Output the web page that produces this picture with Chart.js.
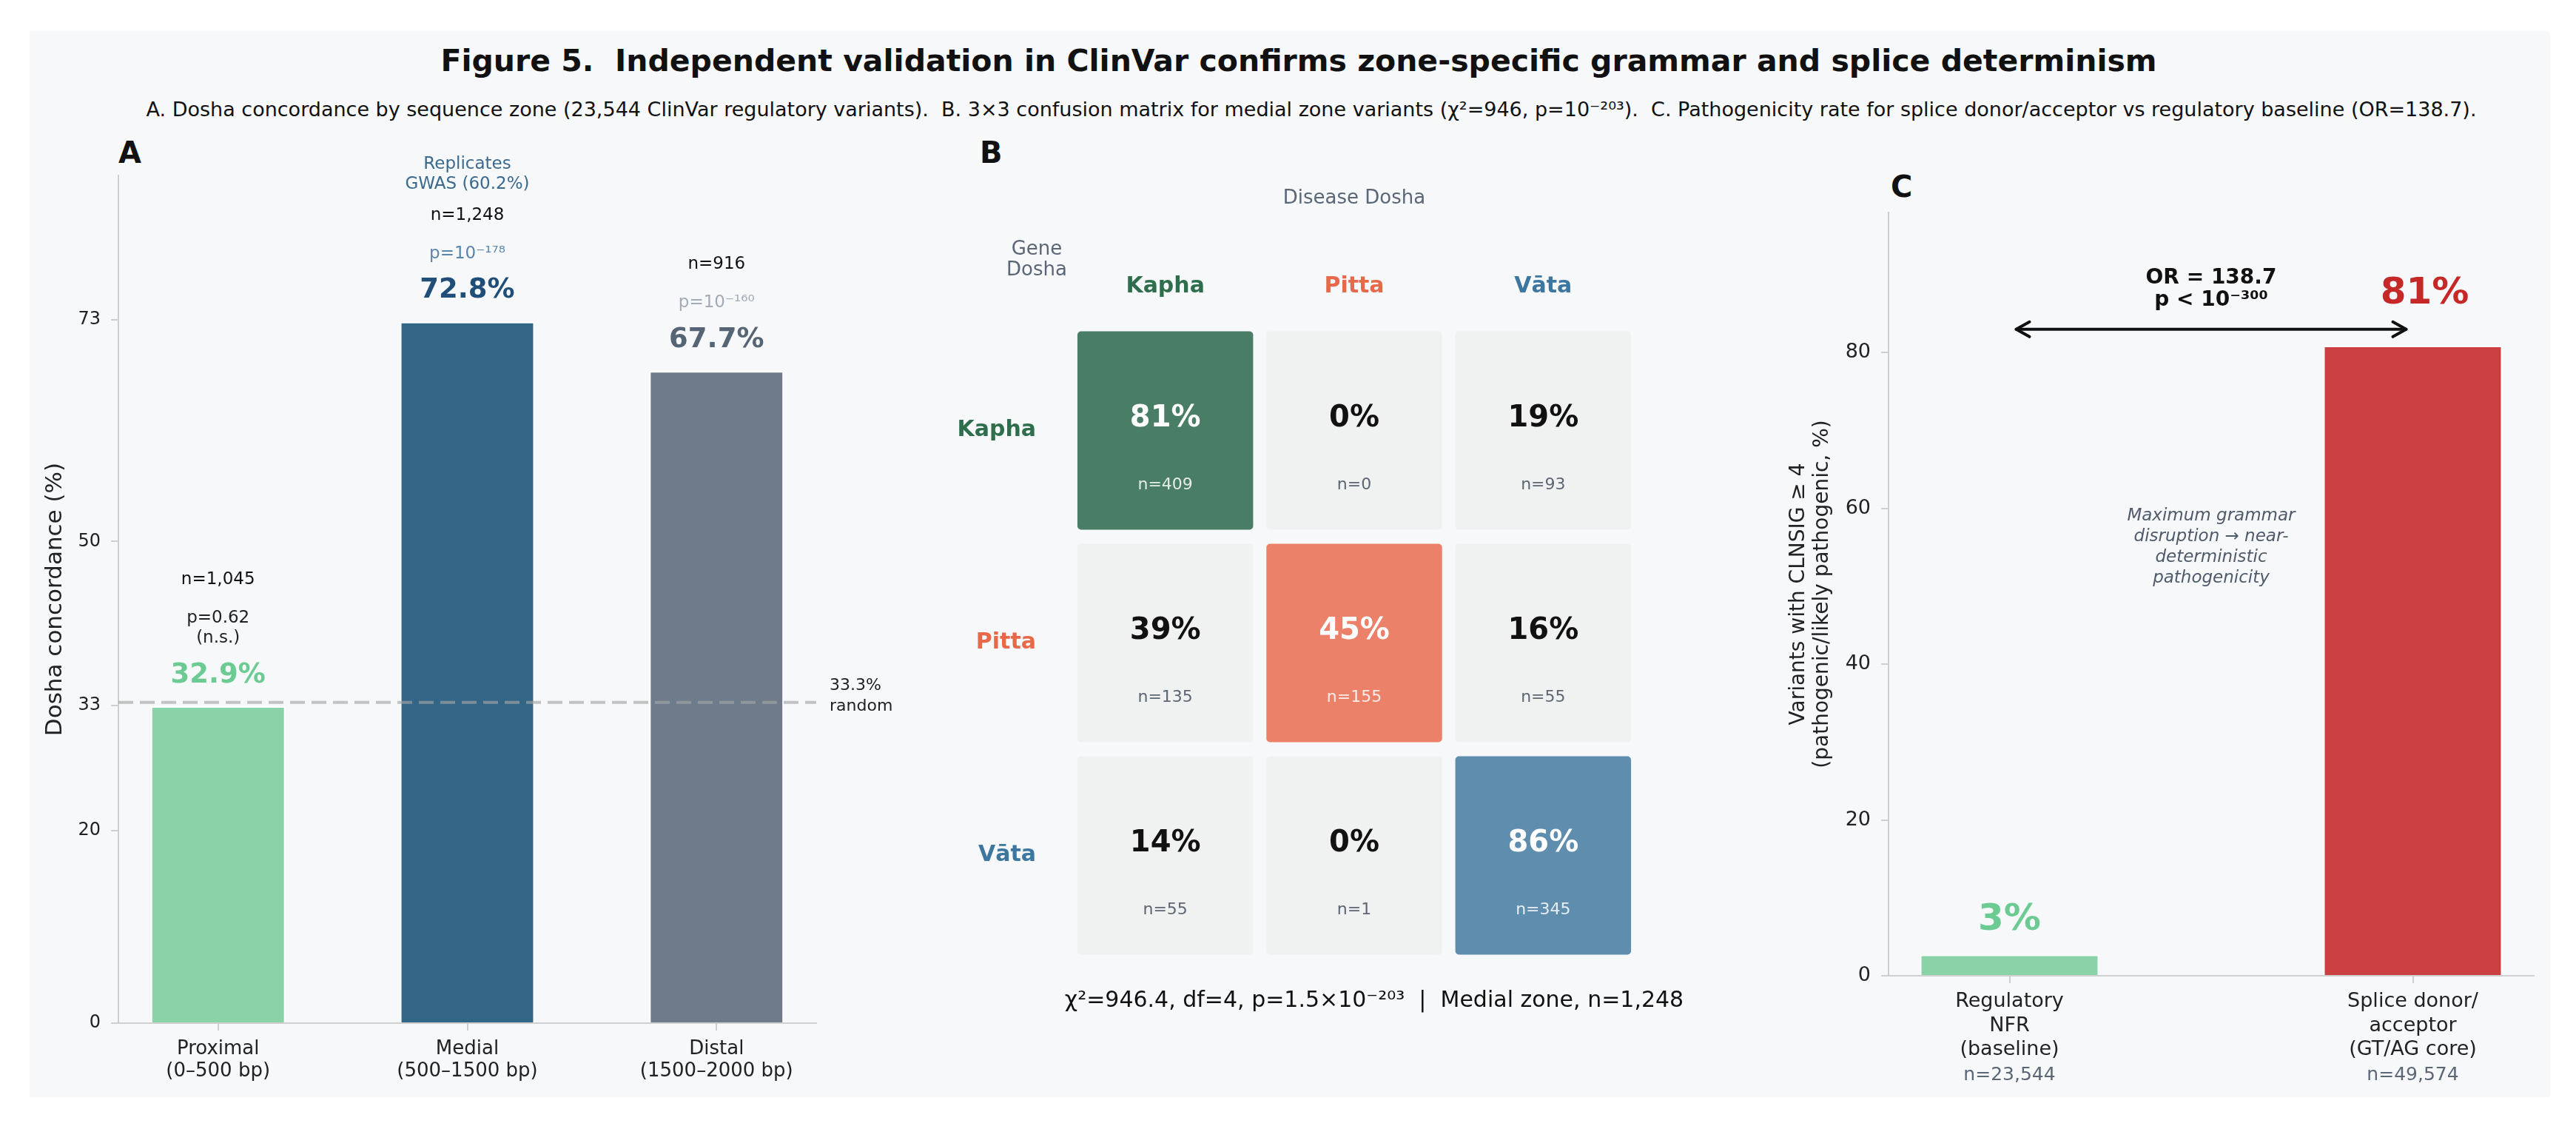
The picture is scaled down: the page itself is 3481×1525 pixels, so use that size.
<!DOCTYPE html>
<html><head><meta charset="utf-8">
<script src="https://cdn.jsdelivr.net/npm/chart.js@4.4.1/dist/chart.umd.min.js"></script>
<style>
html,body{margin:0;padding:0;background:#fff;width:3481px;height:1525px;overflow:hidden;font-family:"DejaVu Sans",sans-serif;}
#bg{position:absolute;left:40px;top:42px;width:3406px;height:1440px;background:#f7f8fa;}
.t{position:absolute;white-space:pre;color:#111;line-height:1;transform:translate(-50%,-50%);}
.l{position:absolute;white-space:pre;color:#111;line-height:1;font-weight:bold;font-size:40px;transform:translateY(-50%);}
canvas{position:absolute;}
</style></head><body>
<div id="bg"></div>
<div class="t" style="left:1755px;top:82px;font-size:41px;font-weight:bold;">Figure 5.  Independent validation in ClinVar confirms zone-specific grammar and splice determinism</div>
<div class="t" style="left:1772px;top:147px;font-size:27px;">A. Dosha concordance by sequence zone (23,544 ClinVar regulatory variants).  B. 3×3 confusion matrix for medial zone variants (χ²=946, p=10⁻²⁰³).  C. Pathogenicity rate for splice donor/acceptor vs regulatory baseline (OR=138.7).</div>
<div class="l" style="left:160px;top:206px;">A</div>
<div class="l" style="left:1324px;top:206px;">B</div>
<div class="l" style="left:2555px;top:252px;">C</div>
<canvas id="cA" width="1200" height="1440" style="left:40px;top:42px;"></canvas>
<canvas id="cB" width="1110" height="1440" style="left:1240px;top:42px;"></canvas>
<canvas id="cC" width="1086" height="1440" style="left:2360px;top:42px;"></canvas>
<script>
// ---------- DATA ----------
const zonesA = [['Proximal','(0–500 bp)'],['Medial','(500–1500 bp)'],['Distal','(1500–2000 bp)']];
const concordA = [32.9, 72.8, 67.7];
const nA = ['n=1,045','n=1,248','n=916'];
const pA = [['p=0.62','(n.s.)'],['p=10⁻¹⁷⁸'],['p=10⁻¹⁶⁰']];
const yTicksA = [0, 20, 33, 50, 73];
const randomLevel = 33.3;
const gwasNote = ['Replicates','GWAS (60.2%)'];

const doshas = ['Kapha','Pitta','Vāta'];
const pctB = [[81,0,19],[39,45,16],[14,0,86]];
const nB = [[409,0,93],[135,155,55],[55,1,345]];
const captionB = 'χ²=946.4, df=4, p=1.5×10⁻²⁰³  |  Medial zone, n=1,248';

const groupsC = [['Regulatory','NFR','(baseline)'],['Splice donor/','acceptor','(GT/AG core)']];
const rateC = [2.7, 80.9];
const nC = ['n=23,544','n=49,574'];
const yTicksC = [0, 20, 40, 60, 80];
const orText = ['OR = 138.7','p < 10⁻³⁰⁰'];
const noteC = ['Maximum grammar','disruption → near-','deterministic','pathogenicity'];

// ---------- STYLE ----------
const FF = '"DejaVu Sans", sans-serif';
Chart.defaults.font.family = FF;
Chart.defaults.color = '#222';
const AX = '#cfcfcf';
const colA = ['#8ad3a9','#336587','#6d7b8b'];
const pctColA = ['#6bcb93','#1f4e79','#566576'];
const pColA = ['#222','#5a86ad','#a3abb5'];
const doshaCol = ['#2f6e4d','#e8694a','#3d77a0'];
const diagCol = ['#4a7d65','#ec8169','#5e8dad'];
const offCol = '#f0f1f1';
const colC = ['#8ad3a9','#cc3f40'];
const pctColC = ['#6bcb93','#c62828'];

function txt(ctx, s, x, y, font, color, align, base){
  ctx.save(); ctx.font = font; ctx.fillStyle = color;
  ctx.textAlign = align || 'center'; ctx.textBaseline = base || 'middle';
  ctx.fillText(s, x, y); ctx.restore();
}
function vtxt(ctx, s, x, y, font, color){
  ctx.save(); ctx.translate(x, y); ctx.rotate(-Math.PI/2);
  txt(ctx, s, 0, 0, font, color); ctx.restore();
}
const axisCommon = (fontSize) => ({
  offset:false,
  grid:{display:true, offset:false, drawOnChartArea:false, drawTicks:true, tickLength:10, color:AX, lineWidth:2},
  border:{display:true, color:AX, width:2},
  ticks:{font:{size:fontSize}, color:'#222', autoSkip:false, maxRotation:0, minRotation:0}
});

// ---------- PANEL A ----------
new Chart(document.getElementById('cA'), {
  type:'bar',
  data:{datasets:[{
    data: concordA.map((v,i)=>({x:i, y:v})),
    backgroundColor: colA, borderColor:'#ffffff', borderWidth:2,
    barPercentage:0.54, categoryPercentage:1
  }]},
  options:{
    responsive:false, animation:false, events:[],
    layout:{padding:{top:195, right:137, left:0, bottom:0}, autoPadding:false},
    plugins:{legend:{display:false}, tooltip:{enabled:false}},
    scales:{
      x:Object.assign(axisCommon(26), {
        type:'linear', min:-0.4, max:2.4,
        afterBuildTicks:(s)=>{ s.ticks = zonesA.map((_,i)=>({value:i})); },
        afterFit:(s)=>{ s.height = 100; }
      }),
      y:Object.assign(axisCommon(24), {
        min:0, max:88,
        afterBuildTicks:(s)=>{ s.ticks = yTicksA.map(v=>({value:v})); },
        afterFit:(s)=>{ s.width = 120; }
      })
    }
  },
  plugins:[{
    id:'annA',
    beforeInit(chart){
      chart.options.scales.x.ticks.callback = (v)=> zonesA[v];
      chart.options.scales.x.ticks.font = {size:26, lineHeight:1.17};
      chart.options.scales.x.ticks.padding = 10;
      chart.options.scales.y.ticks.callback = (v)=> String(v);
      chart.options.scales.y.ticks.padding = 14;
    },
    afterDatasetsDraw(chart){
      const {ctx, scales:{x, y}, chartArea:ca} = chart;
      const yr = y.getPixelForValue(randomLevel);
      ctx.save(); ctx.strokeStyle='rgba(165,165,165,0.65)'; ctx.lineWidth=4; ctx.setLineDash([20,9]);
      ctx.beginPath(); ctx.moveTo(ca.left, yr); ctx.lineTo(ca.right, yr); ctx.stroke(); ctx.restore();
      txt(ctx, '33.3%', ca.right+18, yr-22, '22px '+FF, '#222', 'left');
      txt(ctx, 'random', ca.right+18, yr+6, '22px '+FF, '#222', 'left');
      concordA.forEach((v,i)=>{
        const px = x.getPixelForValue(i), top = y.getPixelForValue(v);
        txt(ctx, v.toFixed(1)+'%', px, top-42, 'bold 37px '+FF, pctColA[i]);
        let yy = top-92;
        for (let k=pA[i].length-1; k>=0; k--){ txt(ctx, pA[i][k], px, yy, '23px '+FF, pColA[i]); yy -= 27; }
        const nY = yy + 27 - 52;
        txt(ctx, nA[i], px, nY, '23px '+FF, '#111');
        if (i === 1){
          txt(ctx, gwasNote[1], px, nY-42, '23px '+FF, '#3a6a8f');
          txt(ctx, gwasNote[0], px, nY-69, '23px '+FF, '#3a6a8f');
        }
      });
      vtxt(ctx, 'Dosha concordance (%)', 35, (ca.top+ca.bottom)/2, '31px '+FF, '#222');
    }
  }]
});

// ---------- PANEL B ----------
const gapB = 0.033;
new Chart(document.getElementById('cB'), {
  type:'bar',
  data:{
    labels: doshas,
    datasets: doshas.map((d, r)=>({
      data: doshas.map((_, c)=> [r+gapB, r+1-gapB]),
      backgroundColor: doshas.map((_, c)=> c===r ? diagCol[r] : offCol),
      borderRadius:5, borderSkipped:false, borderWidth:0,
      grouped:false, barPercentage:0.93, categoryPercentage:1
    }))
  },
  options:{
    responsive:false, animation:false, events:[],
    layout:{padding:{top:296, right:137, left:0, bottom:183}, autoPadding:false},
    plugins:{legend:{display:false}, tooltip:{enabled:false}},
    scales:{
      x:{position:'top', grid:{display:false, drawTicks:false}, border:{display:false},
         ticks:{font:{size:30, weight:'bold'}, color:(c)=>doshaCol[c.index], padding:33, callback:(v,i)=>doshas[i]},
         afterFit:(s)=>{ s.height = 100; }},
      y:{reverse:true, min:0, max:3, grid:{display:false, drawTicks:false}, border:{display:false},
         afterBuildTicks:(s)=>{ s.ticks = doshas.map((_,i)=>({value:i+0.5})); },
         ticks:{font:{size:30, weight:'bold'}, color:(c)=>doshaCol[c.index], padding:47, callback:(v,i)=>doshas[i]},
         afterFit:(s)=>{ s.width = 207; }}
    }
  },
  plugins:[{
    id:'annB',
    afterDatasetsDraw(chart){
      const {ctx, scales:{x, y}, chartArea:ca} = chart;
      pctB.forEach((row, r)=> row.forEach((p, c)=>{
        const px = x.getPixelForValue(c), yt = y.getPixelForValue(r+gapB);
        const diag = r===c;
        txt(ctx, p+'%', px, yt+118, 'bold 40px '+FF, diag ? '#ffffff' : '#111');
        txt(ctx, 'n='+nB[r][c], px, yt+208, '22px '+FF, diag ? 'rgba(255,255,255,0.85)' : '#5d6673');
      }));
      txt(ctx, 'Disease Dosha', (ca.left+ca.right)/2, ca.top-170, '26px '+FF, '#5b6777');
      txt(ctx, 'Gene', 161, ca.top-101, '26px '+FF, '#5b6777');
      txt(ctx, 'Dosha', 161, ca.top-73, '26px '+FF, '#5b6777');
      txt(ctx, captionB, (ca.left+ca.right)/2+27, ca.bottom+53, '30px '+FF, '#111');
    }
  }]
});

// ---------- PANEL C ----------
new Chart(document.getElementById('cC'), {
  type:'bar',
  data:{datasets:[{
    data: rateC.map((v,i)=>({x:i, y:v})),
    backgroundColor: colC, borderColor:'#ffffff', borderWidth:2,
    barPercentage:0.444, categoryPercentage:1
  }]},
  options:{
    responsive:false, animation:false, events:[],
    layout:{padding:{top:245, right:22, left:0, bottom:0}, autoPadding:false},
    plugins:{legend:{display:false}, tooltip:{enabled:false}},
    scales:{
      x:Object.assign(axisCommon(27), {
        type:'linear', min:-0.3, max:1.3,
        afterBuildTicks:(s)=>{ s.ticks = groupsC.map((_,i)=>({value:i})); },
        afterFit:(s)=>{ s.height = 164; }
      }),
      y:Object.assign(axisCommon(27), {
        min:0, max:98,
        afterBuildTicks:(s)=>{ s.ticks = yTicksC.map(v=>({value:v})); },
        afterFit:(s)=>{ s.width = 192; }
      })
    }
  },
  plugins:[{
    id:'annC',
    beforeInit(chart){
      chart.options.scales.x.ticks.callback = (v)=> groupsC[v];
      chart.options.scales.x.ticks.font = {size:27, lineHeight:1.2};
      chart.options.scales.x.ticks.padding = 9;
      chart.options.scales.y.ticks.callback = (v)=> String(v);
      chart.options.scales.y.ticks.padding = 14;
    },
    afterDatasetsDraw(chart){
      const {ctx, scales:{x, y}, chartArea:ca} = chart;
      const offs = [47, 70];
      rateC.forEach((v,i)=>{
        const px = x.getPixelForValue(i), top = y.getPixelForValue(v);
        txt(ctx, Math.round(v)+'%', px + (i===1?16:0), top-offs[i], 'bold 50px '+FF, pctColC[i]);
        txt(ctx, nC[i], px, ca.bottom+134, '25px '+FF, '#5b6777');
      });
      // arrow
      const ya = y.getPixelForValue(83);
      const x0 = x.getPixelForValue(0)+9, x1 = x.getPixelForValue(1)-9;
      ctx.save(); ctx.strokeStyle='#111'; ctx.lineWidth=4; ctx.lineCap='round'; ctx.lineJoin='round';
      ctx.beginPath(); ctx.moveTo(x0, ya); ctx.lineTo(x1, ya); ctx.stroke();
      ctx.beginPath(); ctx.moveTo(x0+18, ya-10); ctx.lineTo(x0, ya); ctx.lineTo(x0+18, ya+10); ctx.stroke();
      ctx.beginPath(); ctx.moveTo(x1-18, ya-10); ctx.lineTo(x1, ya); ctx.lineTo(x1-18, ya+10); ctx.stroke();
      ctx.restore();
      const cx = (ca.left+ca.right)/2;
      txt(ctx, orText[0], cx, ya-69, 'bold 28px '+FF, '#111');
      txt(ctx, orText[1], cx, ya-39, 'bold 28px '+FF, '#111');
      const yn = y.getPixelForValue(59);
      noteC.forEach((s,k)=> txt(ctx, s, cx, yn + k*28, 'italic 23px '+FF, '#4f5b6b'));
      const cy = (ca.top+ca.bottom)/2;
      vtxt(ctx, 'Variants with CLNSIG ≥ 4', 71, cy, '28px '+FF, '#222');
      vtxt(ctx, '(pathogenic/likely pathogenic, %)', 103, cy, '28px '+FF, '#222');
    }
  }]
});
</script>
</body></html>
